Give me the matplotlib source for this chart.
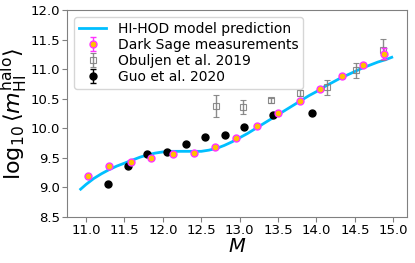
import matplotlib
matplotlib.use("Agg")
import matplotlib.pyplot as plt

# Model prediction
model_x = [10.93, 11.0, 11.1, 11.2, 11.3, 11.4, 11.5, 11.6, 11.7, 11.8, 11.9, 12.0,
           12.1, 12.2, 12.3, 12.4, 12.5, 12.6, 12.7, 12.8, 12.9, 13.0, 13.1, 13.2,
           13.3, 13.4, 13.5, 13.6, 13.7, 13.8, 13.9, 14.0, 14.1, 14.2, 14.3, 14.4,
           14.5, 14.6, 14.7, 14.8, 14.9, 14.98]
model_y = [8.97, 9.05, 9.15, 9.23, 9.30, 9.36, 9.41, 9.46, 9.51, 9.55, 9.58, 9.60,
           9.61, 9.61, 9.61, 9.61, 9.61, 9.63, 9.66, 9.71, 9.77, 9.84, 9.91, 9.99,
           10.07, 10.15, 10.23, 10.31, 10.39, 10.47, 10.55, 10.62, 10.70, 10.77, 10.84, 10.90,
           10.96, 11.02, 11.07, 11.12, 11.16, 11.20]

# Dark Sage measurements
ds_x = [11.02, 11.30, 11.58, 11.85, 12.13, 12.40, 12.68, 12.95, 13.23, 13.50,
        13.78, 14.05, 14.33, 14.60, 14.88]
ds_y = [9.19, 9.36, 9.43, 9.50, 9.56, 9.59, 9.68, 9.84, 10.04, 10.25,
        10.46, 10.67, 10.88, 11.07, 11.26]
ds_err = [0.02, 0.02, 0.02, 0.02, 0.02, 0.02, 0.02, 0.02, 0.02, 0.02,
          0.02, 0.03, 0.03, 0.04, 0.09]

# Obuljen et al. 2019
ob_x = [12.69, 13.05, 13.41, 13.78, 14.14, 14.51, 14.87]
ob_y = [10.38, 10.36, 10.47, 10.59, 10.69, 10.98, 11.33]
ob_err = [0.19, 0.12, 0.05, 0.05, 0.12, 0.13, 0.18]

# Guo et al. 2020
guo_x = [11.28, 11.55, 11.79, 12.06, 12.30, 12.55, 12.81, 13.06, 13.44, 13.94]
guo_y = [9.06, 9.36, 9.56, 9.60, 9.74, 9.85, 9.89, 10.02, 10.22, 10.26]
guo_err = [0.0] * len(guo_x)

fig = plt.figure(figsize=(4.15, 2.63), dpi=100)
ax = fig.add_axes([0.161, 0.175, 0.820, 0.787])

ax.plot(model_x, model_y, color='#00bfff', lw=2.0, label='HI-HOD model prediction', zorder=2)
ax.errorbar(ds_x, ds_y, yerr=ds_err, fmt='o', ms=5, mfc='#ffc000', mec='#ff33ff',
            mew=1.0, ecolor='#ff33ff', elinewidth=1, capsize=2,
            label='Dark Sage measurements', zorder=4)
ax.errorbar(ob_x, ob_y, yerr=ob_err, fmt='s', ms=4, mfc='none', mec='gray',
            mew=0.8, ecolor='gray', elinewidth=1, capsize=2, alpha=0.9,
            label='Obuljen et al. 2019', zorder=3)
ax.errorbar(guo_x, guo_y, yerr=guo_err, fmt='o', ms=5, color='black',
            ecolor='black', elinewidth=1, capsize=2,
            label='Guo et al. 2020', zorder=3)

ax.set_xlim(10.75, 15.18)
ax.set_ylim(8.5, 12.0)
ax.set_xticks([11.0, 11.5, 12.0, 12.5, 13.0, 13.5, 14.0, 14.5, 15.0])
ax.set_yticks([8.5, 9.0, 9.5, 10.0, 10.5, 11.0, 11.5, 12.0])
ax.tick_params(labelsize=9.5, length=3.5, color='gray', pad=1.5)
for s in ax.spines.values():
    s.set_color('gray')

ax.set_xlabel(r'$M$', fontsize=14, labelpad=0)
ax.set_ylabel(r'$\log_{10}\langle m_{\rm HI}^{\rm halo}\rangle$', fontsize=16, labelpad=0)

ax.legend(loc='upper left', fontsize=10, frameon=True, handlelength=2.0,
          borderpad=0.35, labelspacing=0.15, handletextpad=0.8)

fig.savefig('out.png', dpi=100)
